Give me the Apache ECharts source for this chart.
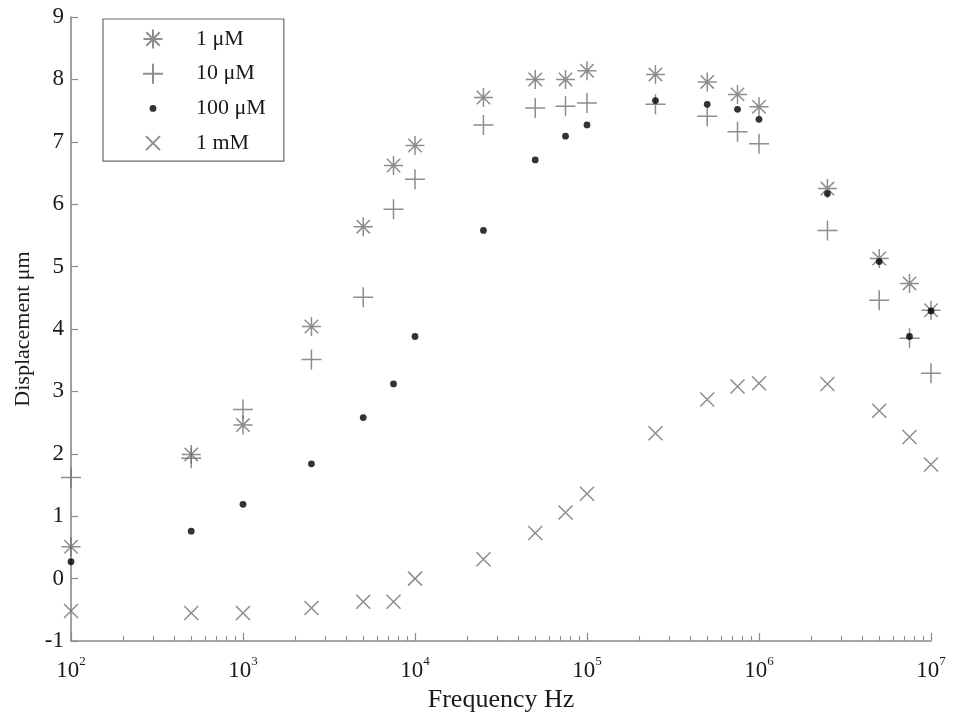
<!DOCTYPE html>
<html>
<head>
<meta charset="utf-8">
<script src="https://cdn.jsdelivr.net/npm/echarts@6/dist/echarts.min.js"></script>
<style>html,body{margin:0;padding:0;background:#fff;}#chart{width:953px;height:715px;}</style>
</head>
<body>
<div id="chart"></div>
<script>
const frequencies = [100, 500, 1000, 2500, 5000, 7500, 1e4, 2.5e4, 5e4, 7.5e4, 1e5, 2.5e5, 5e5, 7.5e5, 1e6, 2.5e6, 5e6, 7.5e6, 1e7];
const seriesNames = ['1 \u03bcM', '10 \u03bcM', '100 \u03bcM', '1 mM'];
const uM1 = [0.51, 1.99, 2.46, 4.04, 5.64, 6.62, 6.94, 7.71, 8.00, 8.00, 8.14, 8.08, 7.96, 7.76, 7.56, 6.25, 5.13, 4.73, 4.30];
const uM10 = [1.62, 1.93, 2.71, 3.51, 4.51, 5.92, 6.40, 7.27, 7.54, 7.57, 7.62, 7.60, 7.41, 7.16, 6.97, 5.58, 4.46, 3.85, 3.29];
const uM100 = [0.27, 0.76, 1.19, 1.84, 2.58, 3.12, 3.88, 5.58, 6.71, 7.09, 7.27, 7.66, 7.60, 7.52, 7.36, 6.17, 5.08, 3.88, 4.29];
const mM1 = [-0.52, -0.55, -0.55, -0.47, -0.37, -0.37, 0.00, 0.31, 0.73, 1.06, 1.36, 2.33, 2.87, 3.08, 3.13, 3.12, 2.69, 2.27, 1.83];
const xTickExponents = [2, 3, 4, 5, 6, 7];
const yTicks = [-1, 0, 1, 2, 3, 4, 5, 6, 7, 8, 9];

const FONT = '"Liberation Serif", "DejaVu Serif", serif';
const MARK = '#707070';
const BOX = 'M-10,-10M10,10';
const SYM_STAR = 'path://' + BOX + 'M0,-9.5L0,9.5M-9.5,0L9.5,0M-6.7,-6.7L6.7,6.7M-6.7,6.7L6.7,-6.7';
const SYM_PLUS = 'path://' + BOX + 'M0,-10L0,10M-10,0L10,0';
const SYM_X = 'path://' + BOX + 'M-7,-7L7,7M-7,7L7,-7';
const SYM_DOT = 'path://' + BOX + 'M-3.4,0A3.4,3.4,0,1,1,3.4,0A3.4,3.4,0,1,1,-3.4,0Z';

const minorTicks = [];
for (let e = 2; e < 7; e++) for (let m = 2; m <= 9; m++) minorTicks.push(m * Math.pow(10, e));
const majorTicks = xTickExponents.map(e => Math.pow(10, e));

function pairs(ys) { return frequencies.map((f, i) => [f, ys[i]]); }

function strokeSeries(name, data, symbol) {
  return {
    name, type: 'scatter', data: pairs(data), symbol, symbolSize: 20,
    itemStyle: { color: 'rgba(0,0,0,0)', borderColor: MARK, borderWidth: 1.5 },
    emphasis: { disabled: true }
  };
}

const chart = echarts.init(document.getElementById('chart'), null, { renderer: 'canvas' });
chart.setOption({
  animation: false,
  backgroundColor: '#fff',
  textStyle: { fontFamily: FONT, color: '#1a1a1a' },
  grid: { left: 71, right: 22, top: 17, bottom: 74, containLabel: false, outerBoundsMode: 'none' },
  legend: {
    orient: 'vertical', left: 103, top: 19,
    padding: [9, 18, 7, 39],
    itemWidth: 20, itemHeight: 20, itemGap: 12.7,
    borderColor: '#6a6a6a', borderWidth: 1.2,
    backgroundColor: '#fff',
    textStyle: { fontFamily: FONT, fontSize: 22, color: '#1a1a1a', padding: [0, 0, 0, 28] },
    data: seriesNames
  },
  xAxis: [{
    type: 'log', logBase: 10, min: 100, max: 1e7,
    name: 'Frequency Hz', nameLocation: 'middle', nameGap: 36,
    nameTextStyle: { fontFamily: FONT, fontSize: 26, color: '#1a1a1a' },
    axisLine: { show: true, onZero: false, lineStyle: { color: '#8a8a8a', width: 1.6 } },
    axisTick: { show: true, inside: true, length: 8, lineStyle: { color: '#8a8a8a', width: 1.2 }, customValues: majorTicks },
    axisLabel: {
      margin: 14, customValues: majorTicks,
      formatter: v => '{b|10}{s|' + Math.round(Math.log10(v)) + '}',
      rich: {
        b: { fontFamily: FONT, fontSize: 23, color: '#1a1a1a', lineHeight: 32 },
        s: { fontFamily: FONT, fontSize: 13, color: '#1a1a1a', verticalAlign: 'top', lineHeight: 13 }
      }
    },
    splitLine: { show: false }
  }, {
    type: 'log', logBase: 10, min: 100, max: 1e7, position: 'bottom',
    axisLine: { show: false, onZero: false },
    axisTick: { show: true, inside: true, length: 5, lineStyle: { color: '#8a8a8a', width: 1.1 }, customValues: minorTicks },
    axisLabel: { show: false },
    splitLine: { show: false }
  }],
  yAxis: {
    type: 'value', min: -1, max: 9, interval: 1,
    name: 'Displacement \u03bcm', nameLocation: 'middle', nameGap: 36,
    nameTextStyle: { fontFamily: FONT, fontSize: 22, color: '#1a1a1a' },
    axisLine: { show: true, onZero: false, lineStyle: { color: '#8a8a8a', width: 1.6 } },
    axisTick: { show: true, inside: true, length: 7, lineStyle: { color: '#8a8a8a', width: 1.2 } },
    axisLabel: { margin: 7, fontFamily: FONT, fontSize: 23, color: '#1a1a1a', formatter: v => String(v) },
    splitLine: { show: false }
  },
  series: [
    strokeSeries(seriesNames[0], uM1, SYM_STAR),
    strokeSeries(seriesNames[1], uM10, SYM_PLUS),
    {
      name: seriesNames[2], type: 'scatter', data: pairs(uM100), symbol: SYM_DOT, symbolSize: 20,
      itemStyle: { color: '#000' }, emphasis: { disabled: true }
    },
    strokeSeries(seriesNames[3], mM1, SYM_X)
  ]
});
</script>
</body>
</html>
